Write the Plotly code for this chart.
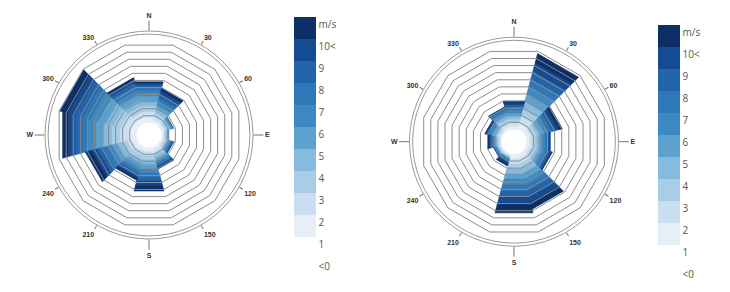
import plotly.graph_objects as go

# ---------------- data ----------------
sectors = ['N', 'N30', 'N60', 'E', 'E120', 'E150', 'S', 'S210', 'S240', 'W', 'W300', 'W330']
sector_angles = [0, 30, 60, 90, 120, 150, 180, 210, 240, 270, 300, 330]
sector_width = 30
class_names = ['1-2', '2-3', '3-4', '4-5', '5-6', '6-7', '7-8', '8-9', '9-10', '10<']
class_colors = ['#e6eff8', '#cbdff0', '#a8cde6', '#86bade', '#5da1cf',
                '#3d89c1', '#2f78b7', '#2265ac', '#154b92', '#0b2f66']

compass_major_vals = [0, 90, 180, 270]
compass_major_text = ['N', 'E', 'S', 'W']
compass_minor_vals = [30, 60, 120, 150, 210, 240, 300, 330]
compass_minor_text = ['30', '60', '120', '150', '210', '240', '300', '330']

radial_grid = [0, 1, 2, 3, 4, 5, 6, 7, 8, 9, 10, 11]
radial_max = 12.5

cbar_vals = [0, 1, 2, 3, 4, 5, 6, 7, 8, 9, 10, 11]
cbar_text = ['<0', '1', '2', '3', '4', '5', '6', '7', '8', '9', '10<', 'm/s']

# left rose: frequency per sector for each speed class
left_c1 = [0.8, 0.5, 0.4, 0.3, 0.3, 0.5, 0.6, 0.6, 0.7, 1.2, 1.1, 0.8]
left_c2 = [0.8, 0.5, 0.3, 0.2, 0.3, 0.4, 0.6, 0.6, 0.7, 1.2, 1.1, 0.8]
left_c3 = [0.8, 0.5, 0.3, 0.2, 0.2, 0.4, 0.6, 0.6, 0.7, 1.2, 1.1, 0.8]
left_c4 = [0.7, 0.5, 0.3, 0.2, 0.2, 0.4, 0.6, 0.5, 0.7, 1.1, 1.1, 0.8]
left_c5 = [0.7, 0.5, 0.2, 0.1, 0.2, 0.3, 0.6, 0.5, 0.7, 1.1, 1.1, 0.7]
left_c6 = [0.6, 0.5, 0.2, 0.1, 0.2, 0.3, 0.6, 0.5, 0.7, 1.1, 1.1, 0.7]
left_c7 = [0.5, 0.5, 0.1, 0.0, 0.2, 0.3, 0.6, 0.4, 0.7, 1.0, 1.1, 0.6]
left_c8 = [0.4, 0.5, 0.0, 0.0, 0.1, 0.2, 0.6, 0.4, 0.7, 0.9, 1.1, 0.5]
left_c9 = [0.3, 0.5, 0.0, 0.0, 0.1, 0.2, 0.6, 0.3, 0.8, 0.9, 1.0, 0.4]
left_c10 = [0.2, 0.4, 0.0, 0.0, 0.0, 0.1, 0.8, 0.3, 0.9, 0.8, 1.1, 0.3]

# right rose
right_c1 = [0.5, 1.0, 0.6, 0.5, 0.5, 0.7, 0.7, 0.2, 0.2, 0.2, 0.3, 0.5]
right_c2 = [0.5, 1.0, 0.5, 0.5, 0.5, 0.7, 0.7, 0.2, 0.2, 0.2, 0.3, 0.5]
right_c3 = [0.5, 1.0, 0.5, 0.4, 0.5, 0.7, 0.7, 0.1, 0.2, 0.2, 0.3, 0.5]
right_c4 = [0.4, 1.0, 0.5, 0.4, 0.4, 0.7, 0.7, 0.1, 0.1, 0.2, 0.3, 0.4]
right_c5 = [0.4, 1.0, 0.5, 0.4, 0.4, 0.8, 0.7, 0.1, 0.1, 0.2, 0.3, 0.4]
right_c6 = [0.4, 1.0, 0.5, 0.4, 0.4, 0.8, 0.8, 0.1, 0.1, 0.2, 0.3, 0.3]
right_c7 = [0.4, 1.1, 0.5, 0.3, 0.4, 0.8, 0.8, 0.2, 0.1, 0.2, 0.2, 0.3]
right_c8 = [0.3, 1.1, 0.5, 0.3, 0.3, 0.8, 0.9, 0.2, 0.1, 0.2, 0.2, 0.2]
right_c9 = [0.3, 1.2, 0.5, 0.2, 0.2, 0.9, 1.0, 0.2, 0.1, 0.2, 0.1, 0.1]
right_c10 = [0.3, 1.3, 0.5, 0.0, 0.1, 0.9, 1.3, 0.3, 0.0, 0.2, 0.1, 0.0]

left_classes = [left_c1, left_c2, left_c3, left_c4, left_c5,
                left_c6, left_c7, left_c8, left_c9, left_c10]
right_classes = [right_c1, right_c2, right_c3, right_c4, right_c5,
                 right_c6, right_c7, right_c8, right_c9, right_c10]

# ---------------- figure ----------------
W, H = 730, 292
fig = go.Figure()


def add_rose(classes, subplot):
    """Stacked wind-rose bands; each band is a straight-edged sector on the polar axes."""
    base = [0.0] * len(sector_angles)
    for name, vals, col in zip(class_names, classes, class_colors):
        rr, tt = [], []
        for i, (ang, v) in enumerate(zip(sector_angles, vals)):
            if v <= 0:
                continue
            a0, a1 = ang - sector_width / 2, ang + sector_width / 2
            r0, r1 = base[i], base[i] + v
            rr += [r0, r1, r1, r0, r0, None]
            tt += [a0, a0, a1, a1, a0, None]
            base[i] = r1
        fig.add_trace(go.Scatterpolar(r=rr, theta=tt, subplot=subplot, name=name,
                                      mode='lines', fill='toself', fillcolor=col,
                                      line=dict(color=col, width=0.6),
                                      showlegend=False, hoverinfo='skip'))


add_rose(left_classes, 'polar')
add_rose(right_classes, 'polar2')

# grid polygons (category axis, linear grid shape) drawn above the bands
for sp in ['polar3', 'polar4']:
    fig.add_trace(go.Scatterpolar(r=[0] * len(sectors), theta=sectors, subplot=sp, mode='markers',
                                  marker=dict(size=1, opacity=0), showlegend=False, hoverinfo='skip'))

bin_colors = ['#ffffff'] + class_colors
nb = len(bin_colors)
cscale = []
for i, c in enumerate(bin_colors):
    cscale.append([i / nb, c])
    cscale.append([(i + 1) / nb, c])


def cbar(xleft, ytop):
    return dict(x=xleft / W, xanchor='left', xpad=0,
                y=1 - ytop / H, yanchor='top', ypad=0,
                lenmode='pixels', len=242, thicknessmode='pixels', thickness=22,
                tickmode='array', tickvals=cbar_vals, ticktext=cbar_text,
                ticks='', ticklabelposition='outside bottom', outlinewidth=0,
                tickfont=dict(family='Open Sans', size=10, color='#555555'))


for sp, cb in [('polar5', cbar(294, 17)), ('polar6', None), ('polar7', cbar(658, 25)), ('polar8', None)]:
    marker = dict(size=1, opacity=0)
    if cb is not None:
        marker.update(color=[0], colorscale=cscale, cmin=0, cmax=nb, showscale=True, colorbar=cb)
    fig.add_trace(go.Scatterpolar(r=[0], theta=[0], mode='markers', subplot=sp,
                                  marker=marker, showlegend=False, hoverinfo='skip'))


def dom(cx, cy, rad):
    return dict(x=[(cx - rad) / W, (cx + rad) / W], y=[(H - cy - rad) / H, (H - cy + rad) / H])


def band_polar(d):
    return dict(domain=d, bgcolor='white', hole=0.12,
                angularaxis=dict(type='linear', rotation=90, direction='clockwise',
                                 showticklabels=False, ticks='', showgrid=False, showline=False),
                radialaxis=dict(range=[-0.02, radial_max], showgrid=False, showticklabels=False,
                                ticks='', showline=False))


def grid_polar(d):
    return dict(domain=d, bgcolor='rgba(0,0,0,0)', hole=0.12, gridshape='linear',
                angularaxis=dict(type='category', categoryorder='array', categoryarray=sectors,
                                 rotation=90, direction='clockwise', tickmode='array',
                                 tickvals=[i + 0.5 for i in range(len(sectors))],
                                 showticklabels=False, ticks='', showgrid=False, showline=False),
                radialaxis=dict(range=[-0.02, radial_max], tickmode='array', tickvals=radial_grid,
                                showticklabels=False, ticks='', showline=False,
                                gridcolor='#8c8c8c', gridwidth=1))


tfont = dict(family='Liberation Sans', size=7, color='#333333', weight='bold')


def ring_polar(d):
    return dict(domain=d, bgcolor='rgba(0,0,0,0)',
                angularaxis=dict(type='linear', rotation=90, direction='clockwise', tickmode='array',
                                 tickvals=compass_major_vals, ticktext=compass_major_text,
                                 ticks='outside', ticklen=10, tickcolor='#777777', tickwidth=1,
                                 showline=True, linecolor='#9a9a9a', linewidth=1, showgrid=False,
                                 tickfont=tfont),
                radialaxis=dict(range=[0, 1], tickmode='array', tickvals=[0.97], showgrid=True,
                                gridcolor='#9a9a9a', gridwidth=1, showline=False,
                                showticklabels=False, ticks=''))


def minor_polar(d):
    return dict(domain=d, bgcolor='rgba(0,0,0,0)',
                angularaxis=dict(type='linear', rotation=90, direction='clockwise', tickmode='array',
                                 tickvals=compass_minor_vals, ticktext=compass_minor_text,
                                 ticks='outside', ticklen=4, tickcolor='#777777', tickwidth=1,
                                 showline=False, showgrid=False, tickfont=tfont),
                radialaxis=dict(range=[0, 1], visible=False))


dl = dom(149, 135, 104)
dr = dom(514, 141.7, 104.5)

fig.update_layout(
    width=W, height=H, margin=dict(l=0, r=0, t=0, b=0),
    paper_bgcolor='white', showlegend=False,
    polar=band_polar(dl), polar2=band_polar(dr),
    polar3=grid_polar(dl), polar4=grid_polar(dr),
    polar5=ring_polar(dl), polar6=minor_polar(dl),
    polar7=ring_polar(dr), polar8=minor_polar(dr),
)

fig.write_html('out.html')
